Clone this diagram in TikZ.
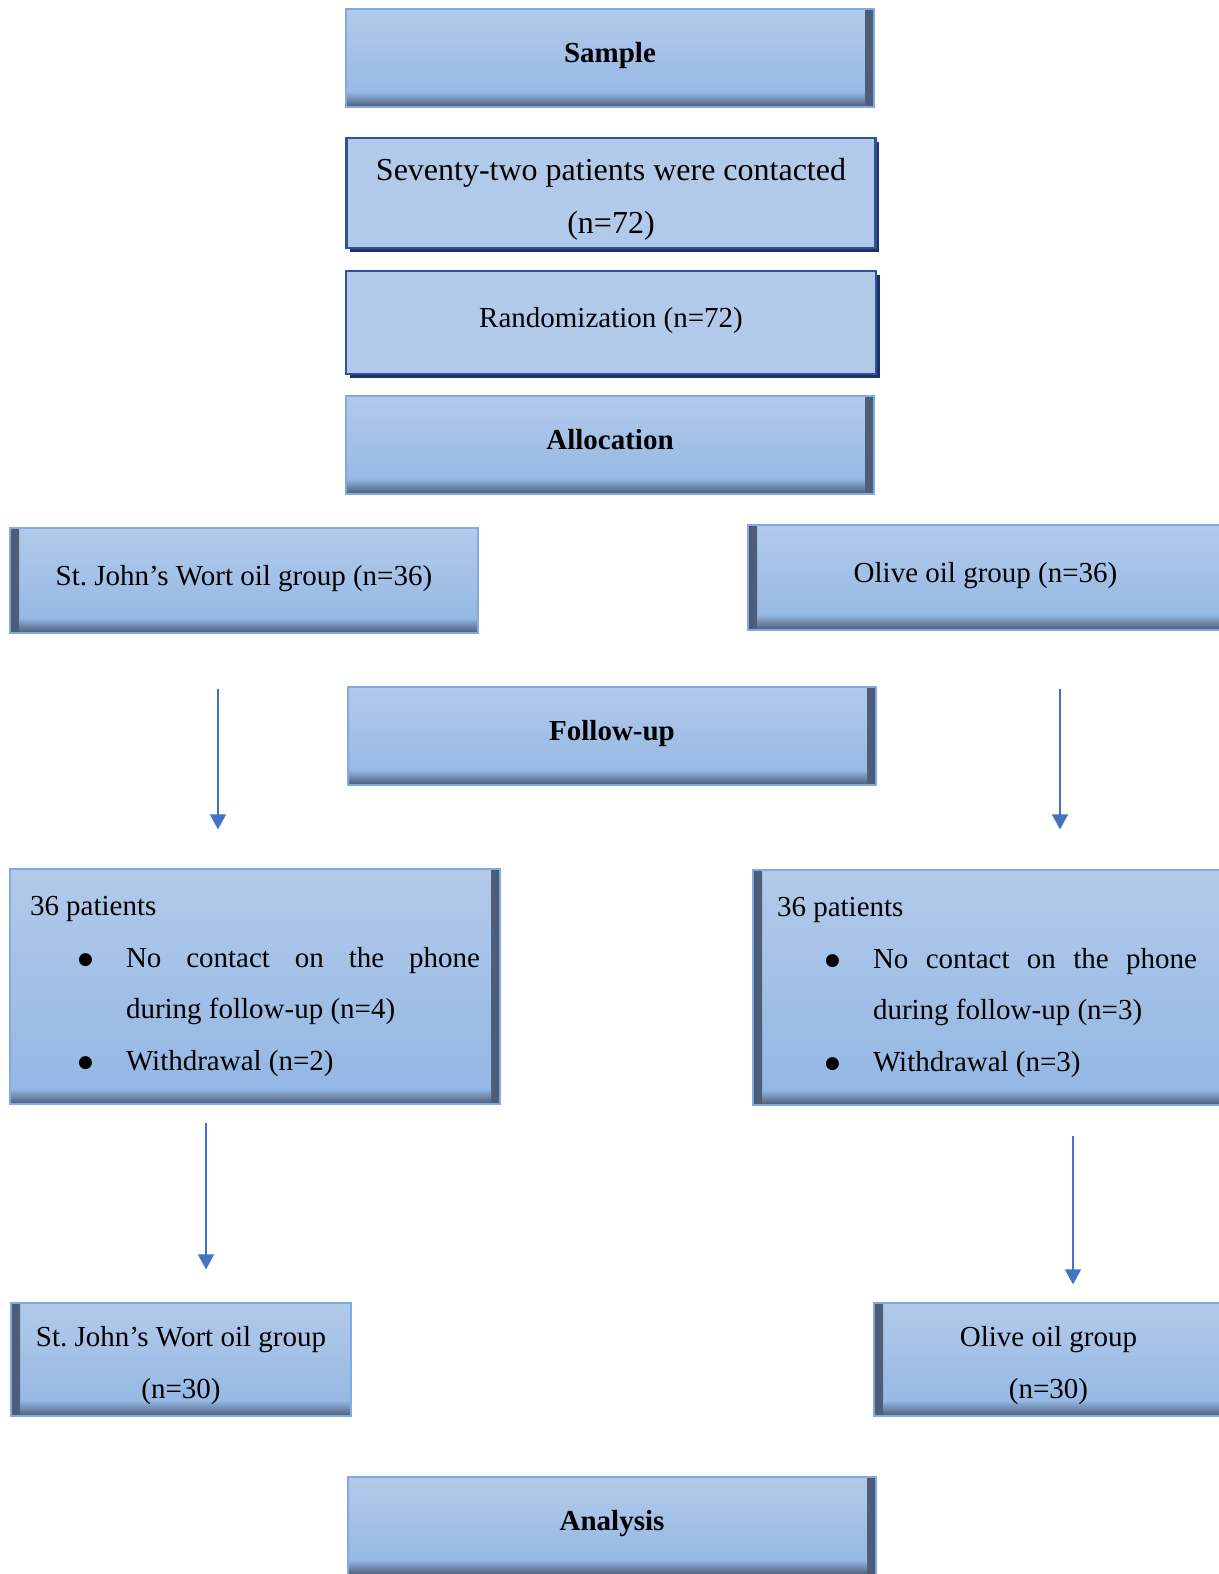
\documentclass[tikz,border=0pt]{standalone}
\usepackage{fontspec}
\setmainfont{Liberation Serif}
\newfontfamily\symfont{DejaVu Sans}
\usetikzlibrary{arrows.meta,shadows}

\definecolor{boxtop}{RGB}{178,202,234}
\definecolor{boxmid}{RGB}{146,182,227}
\definecolor{boxside}{RGB}{160,191,230}
\definecolor{boxline}{RGB}{128,170,224}
\definecolor{boxdark}{RGB}{76,92,118}
\definecolor{framedark}{RGB}{48,82,156}
\definecolor{framesh}{RGB}{30,52,96}
\definecolor{arrblue}{RGB}{68,114,196}

% shadings are fitted by their middle part (25bp--75bp)
\pgfdeclarehorizontalshading{band r}{100bp}{color(0bp)=(boxside); color(25bp)=(boxside);
    color(55bp)=(boxside!55!boxdark); color(75bp)=(boxdark); color(100bp)=(boxdark)}
\pgfdeclarehorizontalshading{band l}{100bp}{color(0bp)=(boxdark); color(25bp)=(boxdark);
    color(45bp)=(boxside!55!boxdark); color(75bp)=(boxside); color(100bp)=(boxside)}

\newcommand\bul{\llap{\raisebox{1.5pt}{\symfont\fontsize{8.5}{8.5}\selectfont ●}\hspace{16.5pt}}}

\begin{document}
\begin{tikzpicture}[
        x=0.5pt, y=-0.5pt,
        box/.style={draw=boxline, line width=0.6pt, top color=boxtop, bottom color=boxmid,
                    inner sep=0pt, align=center, font=\fontsize{14.5}{25.8}\selectfont},
        head/.style={text height=7.5pt, text depth=3pt},
        boxR/.style={box, path picture={
            \shade[shading=band r] ([xshift=-4.5pt]path picture bounding box.north east)
                rectangle (path picture bounding box.south east);
            \shade[top color=boxmid, bottom color=boxdark] (path picture bounding box.south west)
                rectangle ([yshift=7.5pt, xshift=-4.5pt]path picture bounding box.south east);}},
        boxL/.style={box, path picture={
            \shade[shading=band l] (path picture bounding box.north west)
                rectangle ([xshift=4.5pt]path picture bounding box.south west);
            \shade[top color=boxmid, bottom color=boxdark] ([xshift=4.5pt]path picture bounding box.south west)
                rectangle ([yshift=7.5pt]path picture bounding box.south east);}},
        framebox/.style={box, draw=framedark, line width=1.3pt,
                    top color=boxtop, middle color=boxmid, bottom color=boxtop,
                    drop shadow={shadow xshift=1.8pt, shadow yshift=-1.8pt, fill=framesh, opacity=1}},
        listbox/.style={align=justify, inner xsep=10pt},
        arr/.style={-{Triangle[length=7.5pt, width=8pt]}, draw=arrblue, line width=0.7pt}
    ]
        \path[use as bounding box, fill=white] (0,0) rectangle (1219,1574);

        % top column
        \node[boxR, head, minimum width=264pt, minimum height=49pt] (sample) at (610,58) {\bfseries Sample};
        \node[framebox, minimum width=264.5pt, minimum height=55pt,
              font=\fontsize{16}{26.5}\selectfont] (contact) at (611,193)
              {\rule{0pt}{17pt}Seventy-two patients were contacted\\(n=72)};
        \node[framebox, head, minimum width=265pt, minimum height=51.5pt] (rand) at (611,322.5) {Randomization (n=72)};
        \node[boxR, head, minimum width=264pt, minimum height=49pt] (alloc) at (610,445) {\bfseries Allocation};

        % groups
        \node[boxL, head, minimum width=234pt, minimum height=52.5pt] (stjA) at (244,580.5)
              {St.\ John’s Wort oil group (n=36)};
        \node[boxL, head, minimum width=237.5pt, minimum height=52.5pt] (oliveA) at (985.5,577.5)
              {Olive oil group (n=36)};
        \node[boxR, head, minimum width=264pt, minimum height=49pt] (follow) at (612,736) {\bfseries Follow-up};

        % follow-up
        \node[boxR, listbox, text width=225pt, minimum width=245pt, minimum height=117.5pt] (stjB) at (255,986.5)
              {\noindent 36 patients\par
               \hangindent=48pt\hangafter=0\noindent\bul No contact on the phone\linebreak during follow-up (n=4)\par
               \hangindent=48pt\hangafter=0\noindent\bul Withdrawal (n=2)\par};
        \node[boxL, listbox, text width=210pt, minimum width=234pt, minimum height=117.5pt] (oliveB) at (987,987.5)
              {\noindent 36 patients\par
               \hangindent=48pt\hangafter=0\noindent\bul No contact on the phone\linebreak during follow-up (n=3)\par
               \hangindent=48pt\hangafter=0\noindent\bul Withdrawal (n=3)\par};

        % analysed
        \node[boxL, minimum width=170pt, minimum height=56.5pt] (stjC) at (181,1359.5)
              {\rule{0pt}{16pt}St.\ John’s Wort oil group\\(n=30)};
        \node[boxL, minimum width=174.5pt, minimum height=56.5pt] (oliveC) at (1048.5,1359.5)
              {\rule{0pt}{16pt}Olive oil group\\(n=30)};
        \node[boxR, head, minimum width=264pt, minimum height=49pt] (analysis) at (612,1526) {\bfseries Analysis};

        \draw[arr, shorten <=27.5pt, shorten >=19.5pt] ([xshift=-13pt]stjA.south) -- ([xshift=-13pt]stjA.south |- stjB.north);
        \draw[arr, shorten <=29pt, shorten >=20pt] ([xshift=37.25pt]oliveA.south) -- ([xshift=37.25pt]oliveA.south |- oliveB.north);
        \draw[arr, shorten <=9pt, shorten >=16.5pt] ([xshift=-24.5pt]stjB.south) -- ([xshift=-24.5pt]stjB.south |- stjC.north);
        \draw[arr, shorten <=15pt, shorten >=9pt] ([xshift=43pt]oliveB.south) -- ([xshift=43pt]oliveB.south |- oliveC.north);
    \end{tikzpicture}
\end{document}
